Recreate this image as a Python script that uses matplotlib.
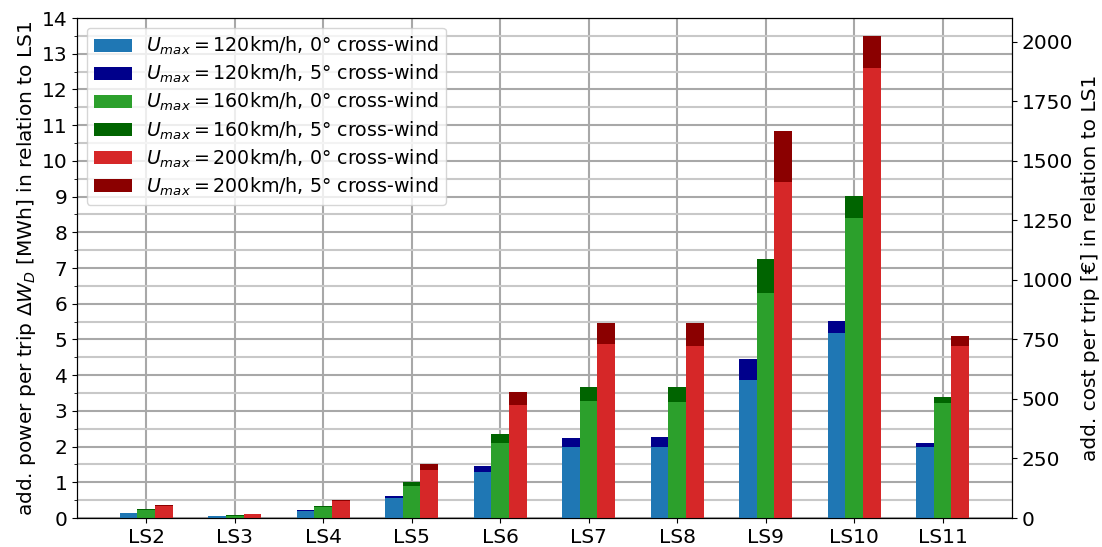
import numpy as np
import matplotlib.pyplot as plt
from matplotlib.ticker import MultipleLocator

# sections
sections = ['LS2', 'LS3', 'LS4', 'LS5', 'LS6', 'LS7', 'LS8', 'LS9', 'LS10', 'LS11']

# add. power per trip [MWh], 0 deg cross-wind and 5 deg cross-wind (total)
w120_0 = [0.13, 0.05, 0.20, 0.55, 1.28, 2.00, 1.98, 3.87, 5.17, 1.98]
w120_5 = [0.15, 0.06, 0.22, 0.62, 1.45, 2.24, 2.26, 4.45, 5.52, 2.09]
w160_0 = [0.23, 0.07, 0.32, 0.89, 2.09, 3.27, 3.24, 6.29, 8.41, 3.21]
w160_5 = [0.25, 0.08, 0.34, 1.00, 2.36, 3.66, 3.66, 7.26, 9.03, 3.40]
w200_0 = [0.34, 0.11, 0.47, 1.34, 3.16, 4.87, 4.82, 9.40, 12.59, 4.82]
w200_5 = [0.36, 0.12, 0.50, 1.50, 3.54, 5.46, 5.46, 10.84, 13.50, 5.10]

price = 150  # euro per MWh

x = np.arange(len(sections))
w = 0.2

fig, ax = plt.subplots(figsize=(11.02, 5.47), dpi=100)
fig.subplots_adjust(left=0.07, right=0.918, top=0.967, bottom=0.053)

groups = [
    (-w, w120_0, w120_5, '#1f77b4', '#00008b', '120'),
    (0, w160_0, w160_5, '#2ca02c', '#006400', '160'),
    (w, w200_0, w200_5, '#d62728', '#8b0000', '200'),
]
handles = []
for off, v0, v5, c0, c5, u in groups:
    b0 = ax.bar(x + off, v0, w, color=c0, zorder=3,
                label=r'$U_{max}=$' + u + 'km/h, 0° cross-wind')
    b5 = ax.bar(x + off, np.array(v5) - np.array(v0), w, bottom=v0, color=c5, zorder=3,
                label=r'$U_{max}=$' + u + 'km/h, 5° cross-wind')
    handles += [b0, b5]

fs = 14.5
ax.set_xticks(x)
ax.set_xticklabels(sections, fontsize=fs)
ax.set_xlim(-0.78, len(sections) - 1 + 0.78)
ax.set_ylim(0, 14)
ax.yaxis.set_major_locator(MultipleLocator(1))
ax.yaxis.set_minor_locator(MultipleLocator(0.5))
ax.tick_params(axis='y', labelsize=fs)
ax.grid(True, which='major', color='#a8a8a8', linewidth=1.5, zorder=0)
ax.grid(True, which='minor', axis='y', color='#c8c8c8', linewidth=1.5, zorder=0)
ax.set_axisbelow(True)
ax.set_ylabel(r'add. power per trip $\Delta W_D$ [MWh] in relation to LS1', fontsize=fs,
              labelpad=3)

ax.legend(handles=handles, loc='upper left', fontsize=13.7, handlelength=2.0,
          handletextpad=0.7, labelspacing=0.3, borderaxespad=0.5, framealpha=0.8)

ax2 = ax.twinx()
ax2.set_ylim(0, 14 * price)
ax2.yaxis.set_major_locator(MultipleLocator(250))
ax2.tick_params(axis='y', labelsize=fs)
ax2.set_ylabel('add. cost per trip [€] in relation to LS1', fontsize=fs, labelpad=6)

fig.savefig('out.png', dpi=100)
